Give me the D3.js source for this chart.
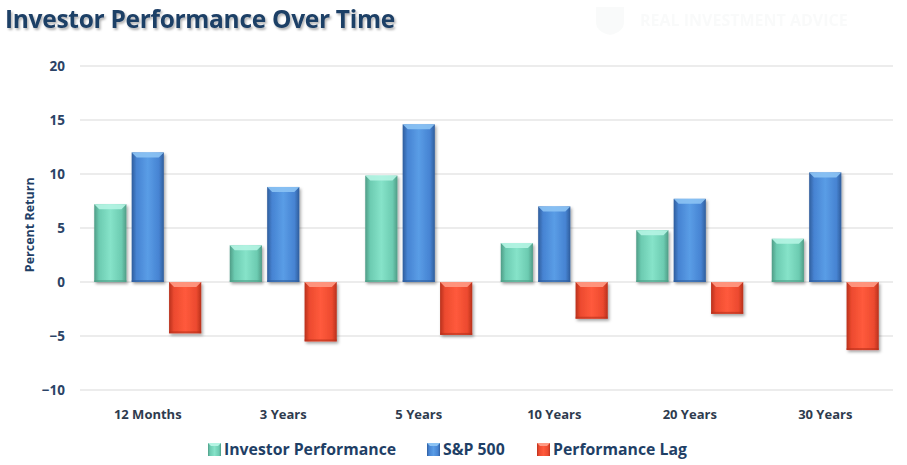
<!DOCTYPE html>
<html>
<head>
<meta charset="utf-8">
<script src="https://cdn.jsdelivr.net/npm/d3@7"></script>
<style>
  body { margin: 0; background: #fff; }
  svg { display: block; font-family: "Open Sans", Lato, sans-serif; }
</style>
</head>
<body>
<svg width="907" height="465"></svg>
<script>
var periods = ["12 Months", "3 Years", "5 Years", "10 Years", "20 Years", "30 Years"];
var seriesNames = ["Investor Performance", "S&P 500", "Performance Lag"];
var investor = [7.2, 3.4, 9.85, 3.6, 4.8, 4.0];
var sp500 = [12.0, 8.8, 14.6, 7.0, 7.7, 10.15];
var lag = [-4.75, -5.5, -4.9, -3.4, -2.95, -6.3];
var yTicks = [-10, -5, 0, 5, 10, 15, 20];

var colors = [
  {light: "#86e3c9", mid: "#6ccbb1", dark: "#4f9c86", top: "#b5f4e3"},
  {light: "#5a9de6", mid: "#4683d2", dark: "#2f5d9c", top: "#8cc3f4"},
  {light: "#ff5a3c", mid: "#ec4a2f", dark: "#b8301c", top: "#ff9a84"}
];

var margins = {top: 66, left: 80, right: 14, bottom: 75};
var width = 907 - margins.left - margins.right;
var height = 465 - margins.top - margins.bottom;

var svg = d3.select("svg");
var defs = svg.append("defs");

colors.forEach(function(c, i) {
  var g = defs.append("linearGradient").attr("id", "grad" + i)
    .attr("x1", 0).attr("x2", 1).attr("y1", 0).attr("y2", 0);
  g.append("stop").attr("offset", "0%").attr("stop-color", c.dark);
  g.append("stop").attr("offset", "15%").attr("stop-color", c.mid);
  g.append("stop").attr("offset", "50%").attr("stop-color", c.light);
  g.append("stop").attr("offset", "85%").attr("stop-color", c.mid);
  g.append("stop").attr("offset", "100%").attr("stop-color", c.dark);
});

var shadow = defs.append("filter").attr("id", "shadow")
  .attr("x", "-20%").attr("y", "-20%").attr("width", "150%").attr("height", "150%");
shadow.append("feDropShadow").attr("dx", 1.5).attr("dy", 2)
  .attr("stdDeviation", 1.6).attr("flood-color", "#000").attr("flood-opacity", 0.35);

var tshadow = defs.append("filter").attr("id", "tshadow");
tshadow.append("feDropShadow").attr("dx", 1.5).attr("dy", 2)
  .attr("stdDeviation", 1.2).attr("flood-color", "#000").attr("flood-opacity", 0.3);

// title
svg.append("text")
  .attr("x", 5).attr("y", 28)
  .attr("font-size", 24.5).attr("font-weight", "bold")
  .attr("fill", "#1f3f66")
  .attr("letter-spacing", -0.3)
  .attr("filter", "url(#tshadow)")
  .text("Investor Performance Over Time");

// faint watermark
var wm = svg.append("g").attr("opacity", 0.35);
wm.append("path")
  .attr("d", "M596,7 L624,7 L624,22 Q624,32 610,35 Q596,32 596,22 Z")
  .attr("fill", "#eef3f1");
wm.append("text")
  .attr("x", 640).attr("y", 26)
  .attr("font-size", 16).attr("font-weight", "bold")
  .attr("fill", "#eef1f1")
  .text("REAL INVESTMENT ADVICE");

var yScale = d3.scaleLinear().domain([-10, 20]).range([height, 0]);
var xScale = d3.scaleBand().domain(periods).range([0, width]).padding(0);
var xInner = d3.scaleBand().domain(seriesNames)
  .range([xScale.bandwidth() / 2 - 53.5, xScale.bandwidth() / 2 + 53.5])
  .paddingInner(0.14).paddingOuter(0);

var chart = svg.append("g")
  .attr("transform", "translate(" + margins.left + "," + margins.top + ")");

// gridlines
chart.append("g").selectAll("line")
  .data(yTicks)
  .enter()
  .append("line")
  .attr("x1", 0).attr("x2", width)
  .attr("y1", function(d) { return yScale(d); })
  .attr("y2", function(d) { return yScale(d); })
  .attr("stroke", "#d9d9d9").attr("stroke-width", 1);

var yAxis = d3.axisLeft(yScale).tickValues(yTicks).tickSize(0).tickPadding(15);
chart.append("g")
  .call(yAxis)
  .call(function(g) { g.select(".domain").remove(); })
  .selectAll("text")
  .attr("font-size", 13.5).attr("font-weight", "bold")
  .attr("fill", "#2b4366")
  .attr("font-family", "'Open Sans', sans-serif");

svg.append("text")
  .attr("transform", "translate(34," + (margins.top + yScale(5.3)) + ") rotate(-90)")
  .attr("text-anchor", "middle")
  .attr("font-size", 12.5).attr("font-weight", "bold")
  .attr("fill", "#1f3f66")
  .text("Percent Return");

var xAxis = d3.axisBottom(xScale).tickSize(0).tickPadding(10);
chart.append("g")
  .attr("transform", "translate(0," + (height + 10) + ")")
  .call(xAxis)
  .call(function(g) { g.select(".domain").remove(); })
  .selectAll("text")
  .attr("font-size", 13).attr("font-weight", "bold")
  .attr("fill", "#2e3b4e")
  .attr("font-family", "'Open Sans', sans-serif");

// bars
var table = [];
periods.forEach(function(p, i) {
  [investor[i], sp500[i], lag[i]].forEach(function(v, s) {
    table.push({period: p, series: s, value: v});
  });
});

var bars = chart.append("g").selectAll("g")
  .data(table)
  .enter()
  .append("g")
  .attr("filter", "url(#shadow)")
  .attr("transform", function(d) {
    return "translate(" + (xScale(d.period) + xInner(seriesNames[d.series])) + ",0)";
  });

var bw = xInner.bandwidth();

bars.append("rect")
  .attr("x", 0)
  .attr("y", function(d) { return yScale(Math.max(0, d.value)); })
  .attr("width", bw)
  .attr("height", function(d) { return Math.abs(yScale(d.value) - yScale(0)); })
  .attr("fill", function(d) { return "url(#grad" + d.series + ")"; });

// bevel on top
bars.append("path")
  .attr("d", function(d) {
    var y0 = yScale(Math.max(0, d.value));
    return "M0," + y0 + " L" + bw + "," + y0 + " L" + (bw - 5) + "," + (y0 + 5) +
      " L5," + (y0 + 5) + " Z";
  })
  .attr("fill", function(d) { return colors[d.series].top; })
  .attr("opacity", 0.9);

// darker bottom edge
bars.append("rect")
  .attr("x", 0)
  .attr("y", function(d) { return yScale(Math.min(0, d.value)) - 2; })
  .attr("width", bw).attr("height", 2)
  .attr("fill", function(d) { return colors[d.series].dark; })
  .attr("opacity", 0.6);

// legend
var legendX = [208, 427, 537];
var legend = svg.append("g").selectAll("g")
  .data(seriesNames)
  .enter()
  .append("g")
  .attr("transform", function(d, i) { return "translate(" + legendX[i] + ",443)"; });

legend.append("rect")
  .attr("width", 13).attr("height", 13)
  .attr("fill", function(d, i) { return "url(#grad" + i + ")"; });
legend.append("path")
  .attr("d", "M0,0 L13,0 L10,3 L3,3 Z")
  .attr("fill", function(d, i) { return colors[i].top; });

legend.append("text")
  .attr("x", 16).attr("y", 12)
  .attr("font-size", 15.8).attr("font-weight", "bold")
  .attr("fill", "#1f3f66")
  .text(function(d) { return d; });
</script>
</body>
</html>
